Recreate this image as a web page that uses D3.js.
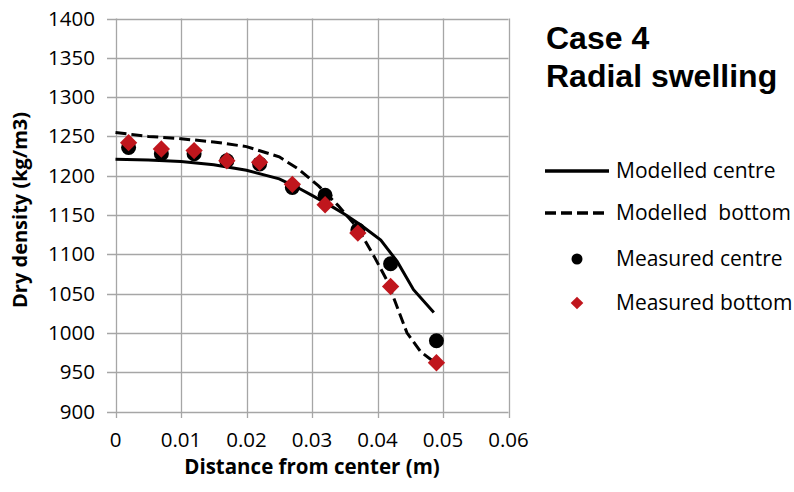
<!DOCTYPE html>
<html lang="en">
<head>
    <meta charset="UTF-8">
    <title>Case 4 Radial swelling</title>
    <script src="https://d3js.org/d3.v7.min.js"></script>
    <style>
        body { margin: 0; background: #fff; }
        svg { display: block; }
        text { font-family: "Open Sans", Arial, sans-serif; fill: #000; }
    </style>
</head>
<body>
<div id="chart"></div>
<script>
    // values
    const xTicks = [0, 0.01, 0.02, 0.03, 0.04, 0.05, 0.06];
    const yTicks = [900, 950, 1000, 1050, 1100, 1150, 1200, 1250, 1300, 1350, 1400];

    const modelCentreX = [0, 0.005, 0.01, 0.015, 0.02, 0.025, 0.028, 0.03, 0.033, 0.035, 0.0375, 0.0405, 0.043, 0.0455, 0.0486];
    const modelCentreY = [1221, 1220, 1218, 1214, 1207, 1196, 1184, 1175, 1161, 1151, 1137, 1118, 1091, 1055, 1026];

    const modelBottomX = [0, 0.005, 0.01, 0.015, 0.02, 0.025, 0.028, 0.031, 0.034, 0.037, 0.0395, 0.0415, 0.0445, 0.0466, 0.0488];
    const modelBottomY = [1255, 1250, 1247, 1243, 1237, 1224, 1208, 1187, 1162, 1133, 1097, 1066, 1000, 976, 962];

    const measX = [0.002, 0.007, 0.012, 0.017, 0.022, 0.027, 0.032, 0.037, 0.042, 0.049];
    const measCentre = [1236, 1228, 1228, 1219, 1215, 1185, 1175, 1131, 1088, 990];
    const measBottom = [1242, 1234, 1232, 1219, 1217, 1189, 1163, 1127, 1059, 962];

    const W = 794, H = 492;
    const svg = d3.select("#chart").append("svg").attr("width", W).attr("height", H);

    const x = d3.scaleLinear().domain([0, 0.06]).range([115.5, 508.5]);
    const y = d3.scaleLinear().domain([900, 1400]).range([411.5, 18.5]);

    // grid
    svg.append("g").selectAll("line").data(yTicks).enter().append("line")
        .attr("x1", 107).attr("x2", x(0.06))
        .attr("y1", d => Math.round(y(d)) + 0.5).attr("y2", d => Math.round(y(d)) + 0.5)
        .attr("stroke", "#a6a6a6").attr("stroke-width", 1.3);
    svg.append("g").selectAll("line").data(xTicks).enter().append("line")
        .attr("y1", y(1400)).attr("y2", 418)
        .attr("x1", d => Math.round(x(d)) + 0.5).attr("x2", d => Math.round(x(d)) + 0.5)
        .attr("stroke", "#a6a6a6").attr("stroke-width", 1.3);

    // tick labels
    svg.append("g").selectAll("text").data(yTicks).enter().append("text")
        .attr("x", 95).attr("y", d => y(d) + 7)
        .attr("text-anchor", "end").attr("font-size", 20.5)
        .text(d => d);
    svg.append("g").selectAll("text").data(xTicks).enter().append("text")
        .attr("x", d => x(d)).attr("y", 447)
        .attr("text-anchor", "middle").attr("font-size", 20.5)
        .text(d => d);

    // axis titles
    svg.append("text").attr("x", x(0.03)).attr("y", 474)
        .attr("text-anchor", "middle").attr("font-size", 20.5).attr("font-weight", "bold")
        .text("Distance from center (m)");
    svg.append("text").attr("transform", "translate(27,210) rotate(-90)")
        .attr("text-anchor", "middle").attr("font-size", 20).attr("font-weight", "bold")
        .text("Dry density (kg/m3)");

    // modelled lines
    const line = d3.line().x(d => x(d[0])).y(d => y(d[1]));
    svg.append("path").datum(d3.zip(modelCentreX, modelCentreY))
        .attr("d", line).attr("fill", "none").attr("stroke", "#000").attr("stroke-width", 3);
    svg.append("path").datum(d3.zip(modelBottomX, modelBottomY))
        .attr("d", line).attr("fill", "none").attr("stroke", "#000").attr("stroke-width", 3)
        .attr("stroke-dasharray", "11,5");

    // measured points
    svg.append("g").selectAll("circle").data(d3.zip(measX, measCentre)).enter().append("circle")
        .attr("cx", d => x(d[0])).attr("cy", d => y(d[1])).attr("r", 7.5).attr("fill", "#000");
    const diamond = d3.symbol().type(d3.symbolSquare).size(150);
    svg.append("g").selectAll("path").data(d3.zip(measX, measBottom)).enter().append("path")
        .attr("d", diamond)
        .attr("transform", d => `translate(${x(d[0])},${y(d[1])}) rotate(45)`)
        .attr("fill", "#c0161d");

    // title (Liberation Sans keeps the line boxes from touching)
    const title = svg.append("g").attr("font-size", 32).attr("font-weight", "bold")
        .style("font-family", "'Liberation Sans', Arial, sans-serif");
    title.append("text").attr("x", 546).attr("y", 49).style("font-family", "inherit").text("Case 4");
    title.append("text").attr("x", 546).attr("y", 87).style("font-family", "inherit").text("Radial swelling");

    // legend
    const legend = [
        { name: "Modelled centre", kind: "solid", cy: 171 },
        { name: "Modelled\u00a0 bottom", kind: "dash", cy: 213 },
        { name: "Measured centre", kind: "circle", cy: 259 },
        { name: "Measured bottom", kind: "diamond", cy: 303 }
    ];
    const lg = svg.append("g").selectAll("g").data(legend).enter().append("g");
    lg.filter(d => d.kind === "solid" || d.kind === "dash").append("line")
        .attr("x1", 545).attr("x2", 609).attr("y1", d => d.cy).attr("y2", d => d.cy)
        .attr("stroke", "#000").attr("stroke-width", 3.5)
        .attr("stroke-dasharray", d => d.kind === "dash" ? "11,5" : null);
    lg.filter(d => d.kind === "circle").append("circle")
        .attr("cx", 577).attr("cy", d => d.cy).attr("r", 5.5).attr("fill", "#000");
    lg.filter(d => d.kind === "diamond").append("path")
        .attr("d", d3.symbol().type(d3.symbolSquare).size(80))
        .attr("transform", d => `translate(577,${d.cy}) rotate(45)`)
        .attr("fill", "#c0161d");
    lg.append("text").attr("x", 616).attr("y", d => d.cy + 7).attr("font-size", 21)
        .text(d => d.name);
</script>
</body>
</html>
